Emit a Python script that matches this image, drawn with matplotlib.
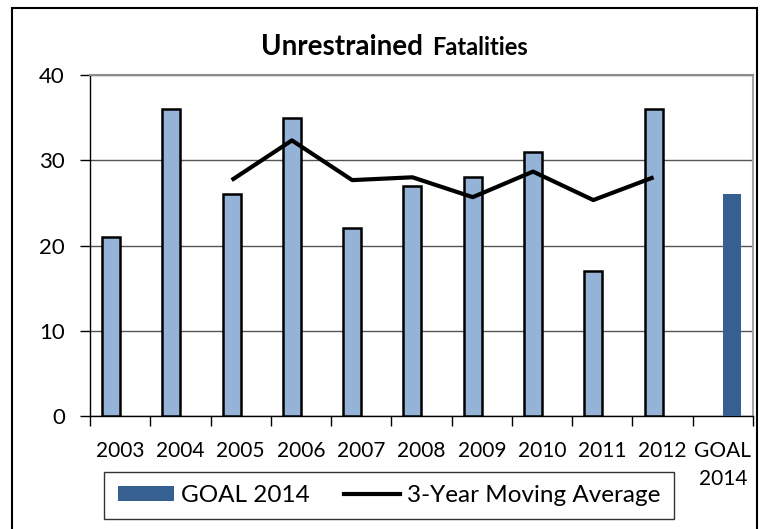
import matplotlib
matplotlib.use("Agg")
import matplotlib.pyplot as plt
from matplotlib.patches import Rectangle, Patch
from matplotlib.lines import Line2D

plt.rcParams['font.family'] = ['Lato', 'DejaVu Sans']

# data
years = ["2003", "2004", "2005", "2006", "2007", "2008", "2009", "2010", "2011", "2012"]
fatalities = [21, 36, 26, 35, 22, 27, 28, 31, 17, 36]
goal_label = "GOAL\n2014"
goal_value = 26
ma_years = ["2005", "2006", "2007", "2008", "2009", "2010", "2011", "2012"]
moving_avg = [27.67, 32.33, 27.67, 28.0, 25.67, 28.67, 25.33, 28.0]

light_blue = "#95B3D7"
dark_blue = "#376092"

fig = plt.figure(figsize=(7.64, 5.29), dpi=100)
ax = fig.add_axes([90 / 764, 1 - 416 / 529, (753 - 90) / 764, (416 - 75) / 529])

cats = years + [goal_label]
x = list(range(len(cats)))
off = 0.15
w = 0.3

# main series
ax.bar([i - off for i in x[:len(years)]], fatalities, width=w, color=light_blue,
       edgecolor="black", linewidth=1.8, zorder=3)
# goal series
ax.bar([x[-1] + off], [goal_value], width=w, color=dark_blue, linewidth=0, zorder=3)

# moving average line drawn through bar centres
ma_x = [years.index(y) - off for y in ma_years]
ax.plot(ma_x, moving_avg, color="black", linewidth=3, solid_capstyle="butt", zorder=4)

ax.set_xlim(-0.5, len(cats) - 0.5)
ax.set_ylim(0, 40)
ax.set_yticks([0, 10, 20, 30, 40])
ax.yaxis.grid(True, color="#555555", linewidth=1)
ax.set_axisbelow(True)

ax.set_xticks(x)
ax.set_xticklabels(cats, fontsize=15, linespacing=1.5, va="top")
ax.set_xticks([i + 0.5 for i in range(-1, len(cats))], minor=True)
ax.tick_params(axis="x", which="major", length=0, pad=18)
ax.tick_params(axis="x", which="minor", length=7, width=1, direction="out")
ax.tick_params(axis="y", labelsize=16, length=7, width=1, pad=11, direction="out")

for s in ["left", "bottom"]:
    ax.spines[s].set_color("black")
    ax.spines[s].set_linewidth(1)
ax.spines["top"].set_color("#8c8c8c")
ax.spines["top"].set_linewidth(1.5)
ax.spines["right"].set_color("#a6a6a6")
ax.spines["right"].set_linewidth(1.5)

# title in two sizes
fig.canvas.draw()
r = fig.canvas.get_renderer()
t1 = fig.text(0, 0, "Unrestrained", fontsize=20, fontweight="bold")
t2 = fig.text(0, 0, "Fatalities", fontsize=17, fontweight="bold")
w1 = t1.get_window_extent(r).width
w2 = t2.get_window_extent(r).width
gap = 9
x0 = 394 - (w1 + gap + w2) / 2
ybase = 1 - 55 / 529
t1.set_position((x0 / 764, ybase))
t1.set_va("baseline")
t2.set_position(((x0 + w1 + gap) / 764, ybase))
t2.set_va("baseline")

# legend
handles = [Patch(facecolor=dark_blue, edgecolor="none"),
           Line2D([0], [0], color="black", linewidth=3)]
leg = fig.legend(handles, ["GOAL 2014", "3-Year Moving Average"], ncol=2,
                 loc="center", bbox_to_anchor=(389 / 764, 1 - 495.5 / 529),
                 fontsize=17.5, frameon=True, fancybox=False, handlelength=2.3,
                 handleheight=0.6, handletextpad=0.3, columnspacing=1.4,
                 borderpad=0.55, borderaxespad=0)
leg.get_frame().set_edgecolor("black")
leg.get_frame().set_linewidth(1)

# outer border
fig.patches.append(Rectangle((12 / 764, -0.01), (757 - 12) / 764, 1.01 - 8 / 529,
                             transform=fig.transFigure, fill=False,
                             edgecolor="black", linewidth=1.5))

fig.savefig("out.png", dpi=100)
